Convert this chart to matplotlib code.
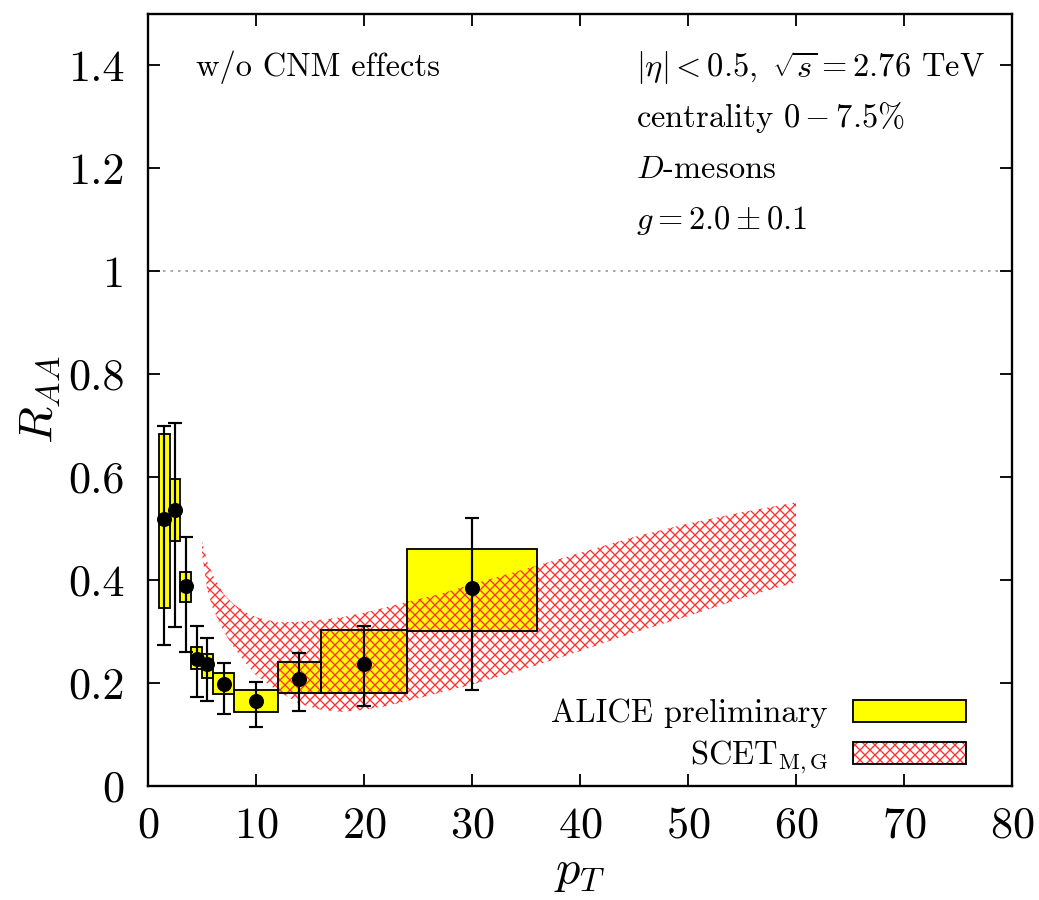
import matplotlib
matplotlib.use('Agg')
import matplotlib.pyplot as plt
from matplotlib.patches import Rectangle

# ALICE preliminary D-meson R_AA, 0-7.5%
pt_lo = [1, 2, 3, 4, 5, 6, 8, 12, 16, 24]
pt_hi = [2, 3, 4, 5, 6, 8, 12, 16, 24, 36]
pt = [1.5, 2.5, 3.5, 4.5, 5.5, 7, 10, 14, 20, 30]
raa = [0.518, 0.537, 0.388, 0.246, 0.238, 0.199, 0.166, 0.208, 0.238, 0.385]
sys_lo = [0.346, 0.476, 0.357, 0.228, 0.210, 0.179, 0.144, 0.180, 0.181, 0.302]
sys_hi = [0.683, 0.597, 0.415, 0.270, 0.257, 0.219, 0.187, 0.240, 0.303, 0.461]
stat_lo = [0.274, 0.309, 0.260, 0.173, 0.165, 0.139, 0.115, 0.145, 0.156, 0.186]
stat_hi = [0.700, 0.705, 0.483, 0.311, 0.288, 0.239, 0.203, 0.259, 0.310, 0.521]

# SCET_M,G band
band_pt = [5, 5.5, 6, 7, 8, 9, 10, 12, 14, 16, 18, 20, 22, 24, 27, 30,
           35, 40, 45, 50, 55, 60]
band_hi = [0.476, 0.435, 0.410, 0.373, 0.352, 0.338, 0.328, 0.318, 0.319,
           0.323, 0.328, 0.337, 0.347, 0.358, 0.373, 0.392, 0.422, 0.453,
           0.484, 0.510, 0.532, 0.551]
band_lo = [0.450, 0.380, 0.345, 0.300, 0.268, 0.240, 0.215, 0.185, 0.160,
           0.148, 0.144, 0.148, 0.155, 0.165, 0.181, 0.197, 0.228, 0.262,
           0.298, 0.330, 0.365, 0.396]

plt.rcParams['font.family'] = 'serif'
plt.rcParams['font.serif'] = ['cmr10']
plt.rcParams['mathtext.fontset'] = 'cm'
plt.rcParams['axes.formatter.use_mathtext'] = True
plt.rcParams['hatch.linewidth'] = 0.8

fig = plt.figure(figsize=(1039 / 120, 900 / 120), dpi=120)
ax = fig.add_axes([148 / 1039, 114 / 900, 864 / 1039, 772 / 900])

red = '#ff3030'
fs = 19.5

# yellow systematic boxes
for lo, hi, a, b in zip(pt_lo, pt_hi, sys_lo, sys_hi):
    ax.add_patch(Rectangle((lo, a), hi - lo, b - a, facecolor='#ffff00',
                           edgecolor='none', zorder=1))

# theory band
ax.fill_between(band_pt, band_lo, band_hi, facecolor='none', edgecolor=red,
                hatch='xxxx', linewidth=0, zorder=2)

# box outlines on top
for lo, hi, a, b in zip(pt_lo, pt_hi, sys_lo, sys_hi):
    ax.add_patch(Rectangle((lo, a), hi - lo, b - a, facecolor='none',
                           edgecolor='black', linewidth=1.1, zorder=3))

yerr = [[r - l for r, l in zip(raa, stat_lo)], [h - r for r, h in zip(raa, stat_hi)]]
ax.errorbar(pt, raa, yerr=yerr, fmt='o', color='black', markersize=8,
            elinewidth=1.3, capsize=4, capthick=1.3, zorder=4)

ax.axhline(1.0, color='#999999', linestyle=(0, (1.5, 3)), linewidth=1.0, zorder=0)

ax.set_xlim(0, 80)
ax.set_ylim(0, 1.5)
ax.set_xticks(range(0, 81, 10))
ax.set_yticks([0, 0.2, 0.4, 0.6, 0.8, 1.0, 1.2, 1.4])
ax.set_yticklabels(['0', '0.2', '0.4', '0.6', '0.8', '1', '1.2', '1.4'])
ax.tick_params(direction='in', length=7, width=1.1, top=True, right=True,
               labelsize=26.5)
ax.tick_params(axis='y', pad=14)
ax.tick_params(axis='x', pad=12)
for s in ax.spines.values():
    s.set_linewidth(1.4)

ax.set_xlabel(r'$p_T$', fontsize=29, labelpad=2)
ax.set_ylabel(r'$R_{AA}$', fontsize=29, labelpad=4)

# annotations
ax.text(0.0556, 0.920, 'w/o CNM effects', transform=ax.transAxes, fontsize=fs)
ax.text(0.565, 0.918, r'$|\eta| < 0.5,\ \sqrt{s} = 2.76$ TeV',
        transform=ax.transAxes, fontsize=fs)
ax.text(0.565, 0.854, r'centrality $0 - 7.5\%$', transform=ax.transAxes, fontsize=fs)
ax.text(0.565, 0.788, r'$D$-mesons', transform=ax.transAxes, fontsize=fs)
ax.text(0.565, 0.7215, r'$g = 2.0 \pm 0.1$', transform=ax.transAxes, fontsize=fs)

# legend
ax.add_patch(Rectangle((0.816, 0.0829), 0.131, 0.0285, transform=ax.transAxes,
                       facecolor='#ffff00', edgecolor='black', linewidth=1.1))
ax.add_patch(Rectangle((0.816, 0.0285), 0.131, 0.0285, transform=ax.transAxes,
                       facecolor='white', edgecolor=red, hatch='xxxx',
                       linewidth=0))
ax.add_patch(Rectangle((0.816, 0.0285), 0.131, 0.0285, transform=ax.transAxes,
                       facecolor='none', edgecolor='black', linewidth=1.1))
ax.text(0.787, 0.083, 'ALICE preliminary', transform=ax.transAxes,
        fontsize=fs, ha='right', va='baseline')
ax.text(0.787, 0.0285, r'SCET$_{\rm M,G}$', transform=ax.transAxes,
        fontsize=fs, ha='right', va='baseline')

fig.savefig('out.png', dpi=120)
